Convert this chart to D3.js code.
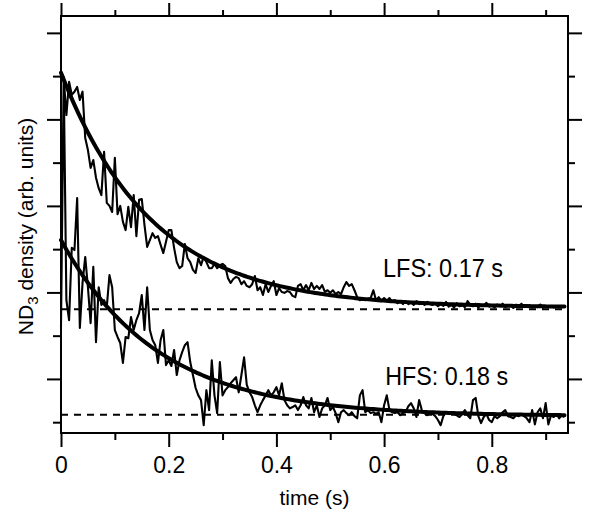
<!DOCTYPE html>
<html>
<head>
<meta charset="utf-8">
<script src="https://cdn.jsdelivr.net/npm/d3@7"></script>
<style>
  body { margin: 0; background: #fff; }
  svg { display: block; font-family: "Liberation Sans", Arial, sans-serif; }
  .tick line { stroke: #000; stroke-width: 2; }
  .tick text { font-size: 23px; fill: #000; }
</style>
</head>
<body>
<script>
'use-strict';

// chart size
let width = 590,
  height = 516

// time axis ticks (s)
const xMajor = [0, 0.2, 0.4, 0.6, 0.8];
const xMinor = [0.1, 0.3, 0.5, 0.7, 0.9];
// density axis ticks (arb. units, no labels)
const yMajor = [10, 30, 50, 70, 90];
const yMinor = [0, 20, 40, 60, 80];

// sampling step of the traces (s)
const timeStep = 0.005;

// LFS trace
const lfsDensity = [
  80.8, 79.6, 71.0, 78.7, 75.7, 76.4, 77.5, 74.5, 76.4, 65.7,
  62.9, 58.8, 60.6, 56.5, 54.1, 52.5, 62.5, 50.7, 50.0, 48.6,
  61.1, 48.1, 50.0, 46.3, 44.4, 49.8, 45.1, 52.5, 43.0, 51.4,
  51.6, 45.6, 40.5, 42.1, 43.7, 42.6, 43.0, 41.0, 39.1, 41.7,
  44.4, 44.4, 40.3, 37.0, 35.6, 36.1, 41.2, 37.9, 37.0, 35.2,
  34.5, 37.9, 36.3, 38.2, 37.0, 35.6, 35.6, 36.6, 35.6, 36.3,
  36.6, 36.1, 33.3, 32.2, 33.1, 33.6, 33.3, 31.9, 32.6, 31.5,
  31.2, 31.9, 33.8, 30.5, 31.2, 29.4, 31.9, 30.1, 31.5, 32.6,
  29.4, 31.0, 30.1, 29.9, 30.3, 30.1, 29.2, 28.9, 31.5, 31.9,
  30.5, 31.7, 30.5, 32.2, 30.8, 31.5, 30.8, 31.7, 30.1, 30.5,
  29.9, 30.5, 29.6, 30.1, 29.6, 31.2, 32.4, 31.5, 31.9, 30.5,
  28.9, 28.2, 28.5, 28.2, 28.5, 28.7, 30.5, 28.2, 28.9, 28.0,
  28.7, 28.0, 28.7, 27.8, 28.2, 27.5, 28.0, 27.3, 28.0, 27.3,
  27.8, 27.1, 28.0, 27.3, 27.5, 27.1, 27.8, 27.3, 27.1, 27.5,
  26.8, 27.3, 26.9, 27.8, 26.7, 27.1, 26.5, 27.5, 26.8, 27.0,
  26.6, 28.0, 27.1, 26.8, 27.4, 26.5, 27.1, 26.9, 27.6, 26.7,
  27.0, 26.5, 27.2, 26.8, 27.4, 26.6, 26.9, 27.1, 26.4, 27.2,
  26.8, 27.4, 26.6, 26.9, 27.1, 26.5, 26.9, 26.6, 27.2, 26.5,
  26.8, 26.6, 26.9, 26.5, 26.8, 26.6, 26.9, 26.6
];

// HFS trace
const hfsDensity = [
  22.0, 79.8, 28.2, 23.6, 40.3, 39.8, 51.8, 21.8, 32.2, 38.2,
  31.2, 22.9, 35.9, 18.5, 31.2, 27.1, 28.2, 26.6, 34.0, 31.2,
  21.3, 19.7, 18.3, 13.7, 19.7, 19.4, 24.3, 21.3, 23.6, 25.2,
  29.4, 21.3, 31.2, 21.3, 19.0, 17.8, 13.7, 19.0, 21.3, 13.2,
  14.3, 13.0, 16.7, 10.9, 14.3, 16.2, 17.8, 18.5, 13.9, 10.9,
  7.9, 6.2, 5.1, -0.7, 7.4, 2.8, 14.3, 6.2, 2.1, 13.9,
  6.2, 7.4, 8.1, 9.0, 9.7, 10.4, 6.9, 10.9, 15.0, 8.6,
  6.9, 5.8, 3.9, 2.3, 3.9, 5.1, 6.2, 7.4, 6.2, 6.9,
  8.1, 6.2, 9.0, 5.1, 3.9, 3.2, 3.5, 3.9, 2.8, 3.9,
  5.8, 3.9, 3.2, 5.6, 2.3, 3.9, 1.2, 3.2, 3.9, 5.6,
  2.8, 3.5, 2.1, 0.0, 2.3, 2.8, 2.1, 1.6, 2.3, 1.4,
  0.9, 6.2, 7.4, 2.3, 2.8, 2.1, 2.3, 1.9, 2.3, 0.0,
  3.9, 6.2, 2.8, 2.3, 2.1, 2.3, 1.6, 2.1, 2.3, 3.7,
  4.4, 3.2, 1.2, 5.1, 2.8, 2.1, 1.6, 2.1, 1.9, 1.4,
  0.5, -0.7, 1.4, 2.3, 1.9, 2.1, 1.9, 1.6, 1.2, 1.9,
  2.8, 1.6, 0.9, 5.1, 5.6, 1.4, -0.2, 1.2, 1.9, 0.5,
  0.0, 1.4, 0.9, 1.4, 2.3, 2.8, 1.4, 1.2, 0.9, 1.6,
  1.4, 1.9, 1.4, 0.9, 0.0, 2.8, -0.5, 2.3, 3.2, 0.9,
  4.4, -0.5, 1.6, 1.2, 1.9, 0.9, 1.6, 1.2
];

// exponential fits: offset + amplitude * exp(-t / tau)
const fitNames = ["LFS", "HFS"];
const fitTau = [0.17, 0.18];
const fitAmp = [54.3, 40.7];
const fitBase = [26.5, 1.4];
// dashed background levels
const baseLevels = [26.1, 1.7];

window.onload = function () {
  let svg = d3.select("body")
    .append("svg")
    .attr("width", width)
    .attr("height", height);

  let x = d3.scaleLinear().domain([0, 0.9415]).range([61, 568]);
  let y = d3.scaleLinear().domain([-2.5, 93.9]).range([433, 16]);

  drawAxes(svg, x, y);
  drawBaselines(svg, x, y);
  drawTraces(svg, x, y);
  drawFits(svg, x, y);
  drawLabels(svg, x, y);
}

// ticks on all four sides plus the frame
function drawAxes(svg, x, y) {
  let fmt = d => d === 0 ? "0" : d3.format(".1f")(d);

  svg.append("g")
    .attr("transform", "translate(0,433)")
    .call(d3.axisBottom(x).tickValues(xMajor).tickSize(14).tickPadding(10).tickFormat(fmt))
    .call(g => g.select(".domain").remove());
  svg.append("g")
    .attr("transform", "translate(0,433)")
    .call(d3.axisBottom(x).tickValues(xMinor).tickSize(7).tickFormat(""))
    .call(g => g.select(".domain").remove());

  svg.append("g")
    .attr("transform", "translate(0,16)")
    .call(d3.axisTop(x).tickValues(xMajor).tickSize(13).tickFormat(""))
    .call(g => g.select(".domain").remove());
  svg.append("g")
    .attr("transform", "translate(0,16)")
    .call(d3.axisTop(x).tickValues(xMinor).tickSize(6).tickFormat(""))
    .call(g => g.select(".domain").remove());

  svg.append("g")
    .attr("transform", "translate(61,0)")
    .call(d3.axisLeft(y).tickValues(yMajor).tickSize(14).tickFormat(""))
    .call(g => g.select(".domain").remove());
  svg.append("g")
    .attr("transform", "translate(61,0)")
    .call(d3.axisLeft(y).tickValues(yMinor).tickSize(8).tickFormat(""))
    .call(g => g.select(".domain").remove());

  svg.append("g")
    .attr("transform", "translate(568,0)")
    .call(d3.axisRight(y).tickValues(yMajor).tickSize(14).tickFormat(""))
    .call(g => g.select(".domain").remove());
  svg.append("g")
    .attr("transform", "translate(568,0)")
    .call(d3.axisRight(y).tickValues(yMinor).tickSize(7).tickFormat(""))
    .call(g => g.select(".domain").remove());

  svg.selectAll(".tick text")
    .attr("font-family", "Liberation Sans, Arial, sans-serif");

  svg.append("rect")
    .attr("x", x.range()[0])
    .attr("y", y.range()[1])
    .attr("width", x.range()[1] - x.range()[0])
    .attr("height", y.range()[0] - y.range()[1])
    .attr("fill", "none")
    .attr("stroke", "#000")
    .attr("stroke-width", 2);

  // axis titles
  svg.append("text")
    .attr("x", (x.range()[0] + x.range()[1]) / 2)
    .attr("y", 505)
    .attr("text-anchor", "middle")
    .attr("font-size", 21)
    .text("time (s)");

  let ylab = svg.append("text")
    .attr("transform", "translate(33," + ((y.range()[0] + y.range()[1]) / 2 + 2) + ") rotate(-90)")
    .attr("text-anchor", "middle")
    .attr("font-size", 21);
  ylab.append("tspan").text("ND");
  ylab.append("tspan").attr("font-size", 15).attr("dy", 5).text("3");
  ylab.append("tspan").attr("dy", -5).text(" density (arb. units)");
}

function drawBaselines(svg, x, y) {
  svg.append("g")
    .selectAll("line")
    .data(baseLevels)
    .join("line")
    .attr("x1", x(0))
    .attr("x2", x.range()[1])
    .attr("y1", d => y(d))
    .attr("y2", d => y(d))
    .attr("stroke", "#000")
    .attr("stroke-width", 2)
    .attr("stroke-dasharray", "7,6");
}

function drawTraces(svg, x, y) {
  let line = d3.line()
    .x((d, i) => x(i * timeStep))
    .y(d => y(d));

  svg.append("g")
    .selectAll("path")
    .data([lfsDensity, hfsDensity])
    .join("path")
    .attr("d", line)
    .attr("fill", "none")
    .attr("stroke", "#000")
    .attr("stroke-width", 2.1)
    .attr("stroke-linejoin", "round");
}

function drawFits(svg, x, y) {
  let tEnd = (lfsDensity.length - 1) * timeStep;
  let ts = d3.range(0, tEnd + 1e-9, tEnd / 200);
  let line = d3.line()
    .x(d => x(d[0]))
    .y(d => y(d[1]));

  svg.append("g")
    .selectAll("path")
    .data(fitNames.map((n, k) => ts.map(t => [t, fitBase[k] + fitAmp[k] * Math.exp(-t / fitTau[k])])))
    .join("path")
    .attr("d", line)
    .attr("fill", "none")
    .attr("stroke", "#000")
    .attr("stroke-width", 4)
    .attr("stroke-linecap", "round");
}

function drawLabels(svg, x, y) {
  let pos = [[0.598, 33.6, 120], [0.602, 8.6, 123]];
  svg.append("g")
    .selectAll("text")
    .data(fitNames)
    .join("text")
    .attr("x", (d, k) => x(pos[k][0]))
    .attr("y", (d, k) => y(pos[k][1]))
    .attr("font-size", 26)
    .attr("textLength", (d, k) => pos[k][2])
    .attr("lengthAdjust", "spacingAndGlyphs")
    .text((d, k) => d + ": " + fitTau[k].toFixed(2) + " s");
}
</script>
</body>
</html>
